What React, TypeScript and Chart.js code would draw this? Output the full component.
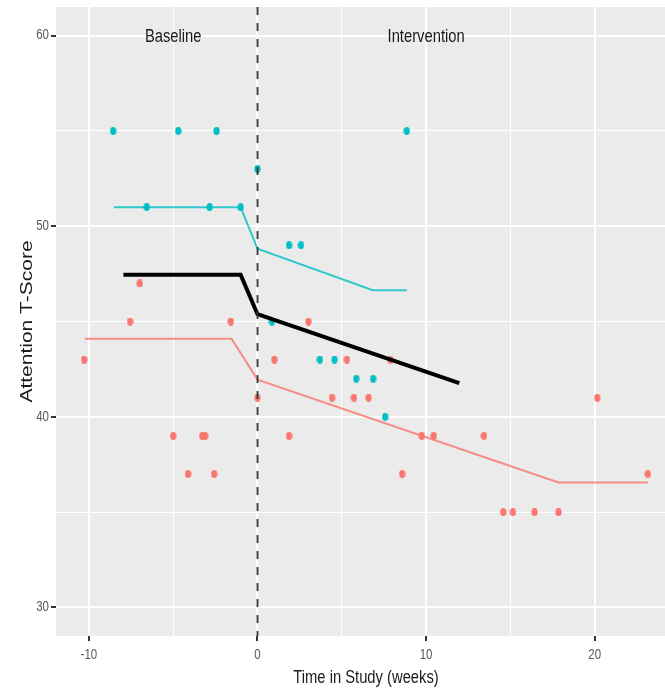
import React, { useEffect, useRef } from "react";
import { Chart, registerables } from "chart.js";

Chart.register(...registerables);

// ---- data ----
const groupAX = [-10.28, -7.56, -6.98, -5.0, -4.12, -3.28, -3.1, -2.57, -1.58, 0, 1.0, 1.87, 3.02, 4.42, 5.3, 5.72, 6.59, 7.87, 8.58, 9.74, 10.45, 13.43, 14.57, 15.15, 16.43, 17.85, 20.15, 23.15];
const groupAY = [43, 45, 47, 39, 37, 39, 39, 37, 45, 41, 43, 39, 45, 41, 43, 41, 41, 43, 37, 39, 39, 39, 35, 35, 35, 35, 41, 37];

const groupBX = [-8.56, -6.57, -4.7, -2.84, -2.43, -1.0, 0, 0.86, 1.87, 2.58, 3.7, 4.57, 5.86, 6.86, 7.57, 8.85];
const groupBY = [55, 51, 55, 51, 55, 51, 53, 45, 49, 49, 43, 43, 42, 42, 40, 55];

const fitAX = [-10.24, -1.54, 0, 17.85, 23.15];
const fitAY = [44.1, 44.1, 41.95, 36.55, 36.55];

const fitBX = [-8.52, -1.0, 0, 6.84, 8.85];
const fitBY = [51.0, 51.0, 48.82, 46.64, 46.64];

const fitAllX = [-7.95, -1.0, 0, 11.97];
const fitAllY = [47.45, 47.45, 45.38, 41.77];

const xGrid = [-10, -5, 0, 5, 10, 15, 20];
const xTickLabels = [-10, 0, 10, 20];
const yGrid = [30, 35, 40, 45, 50, 55, 60];
const yTickLabels = [30, 40, 50, 60];
const xLimits = [-11.95, 24.82];
const yLimits = [28.5, 61.5];

const phaseChange = 0;
const phaseLabels = ["Baseline", "Intervention"];
const phaseLabelX = [-5, 10];
const phaseLabelY = [60, 60];

const xTitle = "Time in Study (weeks)";
const yTitle = "Attention T-Score";

// ---- styles ----
const RED = "#F8766D";
const TEAL = "#00BFC4";
const FONT = "'Liberation Sans', Arial, sans-serif";
const SQUEEZE = 0.82;

function zip(xs: number[], ys: number[]) {
  return xs.map((x, i) => ({ x, y: ys[i] }));
}

function makeDot(color: string): HTMLCanvasElement {
  const c = document.createElement("canvas");
  c.width = 7;
  c.height = 8;
  const g = c.getContext("2d")!;
  g.fillStyle = color;
  g.beginPath();
  g.ellipse(3.5, 4, 3.1, 3.9, 0, 0, Math.PI * 2);
  g.fill();
  return c;
}

function text(
  ctx: CanvasRenderingContext2D,
  s: string,
  x: number,
  y: number,
  size: number,
  color: string,
  align: CanvasTextAlign,
  baseline: CanvasTextBaseline,
  rot = 0,
  sx = SQUEEZE,
  sy = 1
) {
  ctx.save();
  ctx.translate(x, y);
  ctx.rotate(rot);
  ctx.scale(sx, sy);
  ctx.font = `${size}px ${FONT}`;
  ctx.fillStyle = color;
  ctx.textAlign = align;
  ctx.textBaseline = baseline;
  ctx.fillText(s, 0, 0);
  ctx.restore();
}

export default function App() {
  const ref = useRef<HTMLCanvasElement | null>(null);

  useEffect(() => {
    if (!ref.current) return;
    const redDot = makeDot(RED);
    const tealDot = makeDot(TEAL);

    const decor = {
      id: "decor",
      beforeDraw(chart: any) {
        const { ctx, chartArea: a } = chart;
        ctx.save();
        ctx.fillStyle = "#ffffff";
        ctx.fillRect(0, 0, chart.width, chart.height);
        ctx.fillStyle = "#EBEBEB";
        ctx.fillRect(a.left, a.top, a.right - a.left, a.bottom - a.top);
        ctx.restore();
      },
      afterDatasetsDraw(chart: any) {
        const { ctx, chartArea: a, scales } = chart;
        const px = scales.x.getPixelForValue(phaseChange);
        ctx.save();
        ctx.strokeStyle = "#333333";
        ctx.lineWidth = 1.8;
        ctx.setLineDash([8, 8]);
        ctx.beginPath();
        ctx.moveTo(px, a.top);
        ctx.lineTo(px, a.bottom);
        ctx.stroke();
        ctx.restore();
      },
      afterDraw(chart: any) {
        const { ctx, scales, chartArea: a } = chart;
        const xs = scales.x;
        const ys = scales.y;
        // phase labels
        phaseLabels.forEach((t, i) => {
          text(ctx, t, xs.getPixelForValue(phaseLabelX[i]), ys.getPixelForValue(phaseLabelY[i]) + 1.5, 18, "#1a1a1a", "center", "middle");
        });
        // tick labels
        xTickLabels.forEach((v) => {
          text(ctx, String(v), xs.getPixelForValue(v), a.bottom + 22.5, 14, "#595959", "center", "alphabetic");
        });
        yTickLabels.forEach((v) => {
          text(ctx, String(v), a.left - 7, ys.getPixelForValue(v), 14, "#595959", "right", "middle");
        });
        // axis titles
        text(ctx, xTitle, (a.left + a.right) / 2, 683, 18, "#1a1a1a", "center", "alphabetic");
        text(ctx, yTitle, 32, (a.top + a.bottom) / 2, 21, "#1a1a1a", "center", "alphabetic", -Math.PI / 2, 1, SQUEEZE);
      },
    };

    const gridOpts = (labels: number[]) => ({
      color: "#ffffff",
      lineWidth: (c: any) => (labels.includes(c.tick?.value) ? 2 : 1),
      tickColor: (c: any) => (labels.includes(c.tick?.value) ? "#333333" : "rgba(0,0,0,0)"),
      tickLength: 5,
      drawTicks: true,
    });

    const chart = new Chart(ref.current, {
      type: "scatter",
      data: {
        datasets: [
          {
            data: zip(fitAllX, fitAllY),
            showLine: true,
            borderColor: "#000000",
            borderWidth: 4,
            pointRadius: 0,
            tension: 0,
            order: 0,
          },
          {
            data: zip(fitBX, fitBY),
            showLine: true,
            borderColor: "rgba(0,191,196,0.8)",
            borderWidth: 2,
            pointRadius: 0,
            tension: 0,
            order: 1,
          },
          {
            data: zip(fitAX, fitAY),
            showLine: true,
            borderColor: "rgba(248,118,109,0.8)",
            borderWidth: 2,
            pointRadius: 0,
            tension: 0,
            order: 2,
          },
          {
            data: zip(groupBX, groupBY),
            pointStyle: tealDot as any,
            pointRadius: 4,
            backgroundColor: TEAL,
            borderWidth: 0,
            order: 3,
          },
          {
            data: zip(groupAX, groupAY),
            pointStyle: redDot as any,
            pointRadius: 4,
            backgroundColor: RED,
            borderWidth: 0,
            order: 4,
          },
        ],
      },
      options: {
        responsive: false,
        animation: false,
        events: [],
        layout: { padding: { top: 7, right: 3, left: 0, bottom: 0 } },
        plugins: { legend: { display: false }, tooltip: { enabled: false } },
        scales: {
          x: {
            type: "linear",
            min: xLimits[0],
            max: xLimits[1],
            afterBuildTicks: (s: any) => {
              s.ticks = xGrid.map((v) => ({ value: v }));
            },
            afterFit: (s: any) => {
              s.height = 58;
            },
            ticks: { display: false },
            grid: gridOpts(xTickLabels) as any,
            border: { display: false },
          },
          y: {
            type: "linear",
            min: yLimits[0],
            max: yLimits[1],
            afterBuildTicks: (s: any) => {
              s.ticks = yGrid.map((v) => ({ value: v }));
            },
            afterFit: (s: any) => {
              s.width = 56;
            },
            ticks: { display: false },
            grid: gridOpts(yTickLabels) as any,
            border: { display: false },
          },
        },
      },
      plugins: [decor],
    });
    return () => chart.destroy();
  }, []);

  return (
    <div
      style={{
        position: "fixed",
        left: 0,
        top: 0,
        width: 665,
        height: 694,
        overflow: "hidden",
        background: "#fff",
      }}
    >
      <canvas ref={ref} width={680} height={694} style={{ display: "block" }} />
    </div>
  );
}
